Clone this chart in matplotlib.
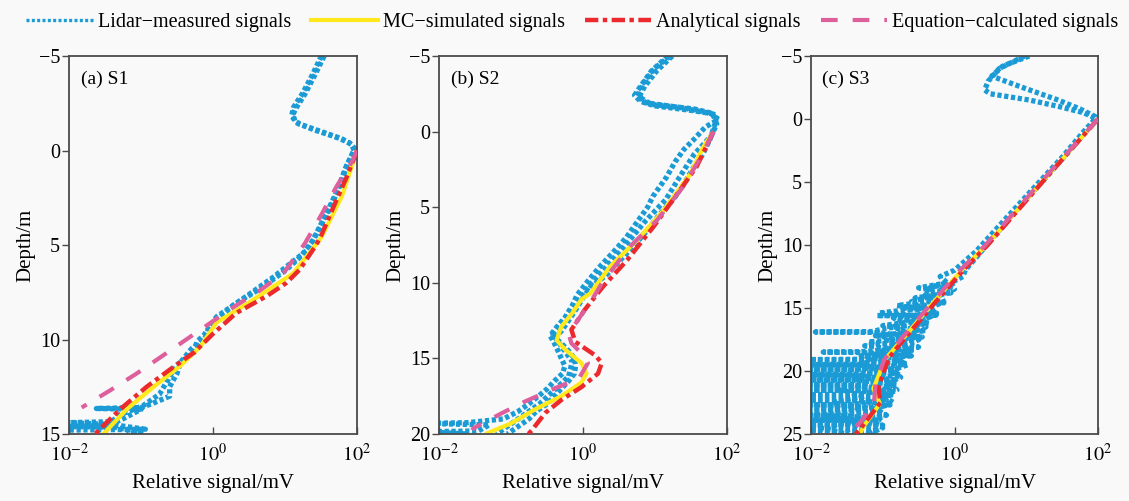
import matplotlib
matplotlib.use("Agg")
import matplotlib.pyplot as plt
from matplotlib.lines import Line2D

plt.rcParams['font.family'] = ['Liberation Serif', 'DejaVu Serif']
plt.rcParams['mathtext.fontset'] = 'stix'

# ---------------- data (depth in m, signal in mV) ----------------
# Panel (a) S1
s1_lidar_a_depth = [-5, -4, -3, -2.2, -1.9, -1.5, -1.1, -0.7, -0.4, -0.1, 0.8, 1.6, 3.0, 4.7, 5.3, 5.9, 6.7, 7.7,
                    8.8, 9.8, 10.1, 10.7, 11.4, 12.1, 12.9, 13.5, 14.0, 14.35, 14.4, 14.5, 14.75, 14.8]
s1_lidar_a_signal = [35, 26, 19, 14, 12.9, 13.8, 25, 52, 79, 93, 72, 62, 43, 25, 20, 12.6, 6.9, 2.95,
                     1.12, 0.74, 0.6, 0.54, 0.3, 0.24, 0.18, 0.107, 0.05, 0.039, 0.0095, 0.04, 0.115, 0.007]
s1_lidar_b_depth = [-5, -4, -3, -2.3, -1.8, -1.4, -1.0, -0.6, -0.3, 0.0, 1.0, 2.0, 3.3, 4.8, 5.6, 6.3, 7.2, 8.2,
                    9.3, 10.0, 10.5, 11.2, 11.8, 12.5, 13.0, 13.4, 13.6, 13.65, 13.7, 13.9, 14.2, 14.55, 14.6,
                    14.65, 14.9, 15.0]
s1_lidar_b_signal = [32, 24, 17.4, 13.2, 12.3, 15.8, 32, 63, 85, 91, 68, 55, 38, 24, 16.6, 10.5, 5.0, 1.9,
                     0.89, 0.76, 0.5, 0.355, 0.316, 0.25, 0.25, 0.141, 0.1, 0.024, 0.1, 0.079, 0.056, 0.035, 0.008,
                     0.045, 0.1, 0.063]
s1_mc_depth = [0.0, 0.7, 2.4, 4.6, 5.5, 6.5, 7.2, 8.1, 9.1, 10.4, 11.4, 12.5, 13.7, 15.0]
s1_mc_signal = [100, 87, 62, 32, 21, 13, 6.9, 3.0, 1.12, 0.66, 0.35, 0.15, 0.063, 0.030]
s1_ana_depth = [0.0, 1.4, 3.0, 4.6, 5.1, 6.3, 7.0, 7.7, 8.6, 9.7, 10.7, 11.6, 12.5, 13.7, 15.0]
s1_ana_signal = [100, 72, 47, 31, 26, 16, 10.5, 5.6, 2.1, 1.0, 0.54, 0.25, 0.12, 0.051, 0.023]
s1_eq_depth = [0.0, 0.6, 1.9, 3.4, 4.9, 6.5, 7.4, 8.3, 9.5, 10.7, 11.8, 12.7, 13.6]
s1_eq_signal = [100, 85, 52, 32, 19, 9.5, 4.5, 1.9, 0.66, 0.23, 0.087, 0.037, 0.015]

# Panel (b) S2
s2_lidar_a_depth = [-5, -4.2, -3.2, -2.3, -1.9, -1.6, -1.3, -1.1, -0.6, -0.3, 0.5, 1.5, 2.5, 3.5, 4.5, 5.5, 6.5,
                    7.5, 8.5, 9.5, 10.3, 11.0, 11.8, 12.5, 13.2, 13.6, 14.0, 14.5, 15.0, 15.5, 16.0, 16.5, 17.0,
                    17.5, 18.0, 18.5, 19.0, 19.5, 20.0]
s2_lidar_a_signal = [16.2, 10, 6.9, 5.6, 7.6, 22, 47, 72, 69, 66, 58, 46, 33, 25, 17.8, 11.5, 7.9,
                     5.2, 3.3, 2.1, 1.26, 1.0, 0.79, 0.63, 0.5, 0.4, 0.5, 0.63, 0.76, 0.79, 0.76, 0.63, 0.5,
                     0.4, 0.32, 0.224, 0.178, 0.126, 0.089]
s2_lidar_b_depth = [-5, -4.0, -3.0, -2.4, -2.0, -1.7, -1.4, -1.2, -0.8, -0.3, 0.5, 1.2, 2.0, 3.0, 4.3, 5.0, 6.0,
                    7.0, 8.0, 9.0, 10.0, 10.8, 11.5, 12.3, 13.0, 13.5, 14.0, 14.5, 15.0, 15.5, 16.0, 16.5, 17.0,
                    17.5, 18.0, 18.5, 19.0, 19.25, 19.3, 19.4, 19.8, 19.85, 20.0]
s2_lidar_b_signal = [15.1, 8.9, 6.3, 5.2, 6.3, 10, 32, 60, 76, 50, 35, 25, 19, 14.5, 9.3, 7.9, 5.6,
                     4.0, 2.6, 1.66, 1.12, 0.83, 0.71, 0.56, 0.42, 0.35, 0.4, 0.45, 0.5, 0.56, 0.52, 0.4, 0.32,
                     0.24, 0.178, 0.126, 0.079, 0.025, 0.0063, 0.05, 0.035, 0.0063, 0.025]
s2_lidar_c_depth = [-5, -4.0, -3.0, -2.3, -1.8, -1.5, -1.2, -0.5, 0.3, 1.5, 3.0, 4.5, 6.0, 8.0, 10.0, 12.0, 13.4,
                    14.2, 15.2, 16.2, 17.0, 18.0, 19.0, 20.0]
s2_lidar_c_signal = [17.4, 10.5, 7.2, 6.0, 8.9, 35, 63, 72, 60, 35, 22, 14.1, 7.1, 3.2, 1.32, 0.66, 0.38,
                     0.5, 0.71, 0.63, 0.42, 0.25, 0.126, 0.063]
s2_mc_depth = [0.0, 1.0, 2.8, 5.2, 7.2, 8.9, 10.7, 11.1, 12.0, 12.9, 13.8, 14.4, 15.3, 16.0, 16.6, 17.5, 18.4,
               19.3, 20.0]
s2_mc_signal = [65, 47, 31, 13.2, 5.6, 2.4, 1.26, 0.95, 0.71, 0.5, 0.43, 0.56, 0.95, 1.12, 0.95, 0.5, 0.21,
                0.10, 0.044]
s2_ana_depth = [0.0, 2.3, 3.9, 6.3, 8.5, 10.25, 11.8, 13.1, 13.9, 14.8, 15.3, 16.0, 16.9, 17.75, 18.6, 19.75, 20.0]
s2_ana_signal = [65, 38, 22, 9.5, 4.1, 1.9, 1.05, 0.69, 0.78, 1.48, 1.82, 1.62, 0.95, 0.5, 0.3, 0.195, 0.174]
s2_eq_depth = [0.0, 1.7, 3.6, 5.85, 7.6, 9.9, 11.14, 12.46, 13.34, 14.0, 14.66, 15.3, 16.36, 16.97, 17.86, 18.63,
               19.62, 19.75]
s2_eq_signal = [65, 43, 25, 10.7, 4.5, 1.9, 1.32, 0.85, 0.63, 0.69, 0.95, 1.17, 0.87, 0.41, 0.155, 0.074,
                0.030, 0.029]

# Panel (c) S3
s3_lidar_a_depth = [-5, -4.2, -3.4, -2.5, -1.5, -0.8, -0.2, 0.0, 2.0, 4.6, 7.5, 10.0, 11.0, 12.0, 12.5, 13.0,
                    13.5, 14.0, 14.5, 15.0, 15.5, 16.0, 16.5, 17.0, 17.5, 18.0, 18.5, 19.0, 19.5, 20.0, 20.5,
                    21.0, 21.5, 22.0, 22.5, 23.0, 23.5, 24.0, 24.5, 25.0]
s3_lidar_a_signal = [11, 4.7, 3.3, 8.9, 28, 56, 91, 93, 48, 19, 6.6, 2.8, 2.0, 1.41, 1.32, 0.89,
                     1.0, 0.63, 0.71, 0.45, 0.56, 0.32, 0.40, 0.24, 0.32, 0.2, 0.25, 0.141, 0.224, 0.126, 0.178,
                     0.112, 0.158, 0.1, 0.141, 0.079, 0.112, 0.071, 0.1, 0.063]
s3_lidar_b_depth = [-5, -4.0, -3.0, -2.3, -2.0, -1.5, -1.0, -0.5, -0.05, 1.0, 3.0, 5.5, 8.0, 10.5, 12.0, 12.5,
                    13.0, 13.5, 14.0, 14.5, 15.0, 15.4, 15.6, 16.0, 16.5, 17.0, 17.5, 18.0, 18.5, 19.0, 19.5,
                    20.0, 20.5, 21.0, 21.5, 22.0, 22.5, 23.0, 23.5, 24.0, 24.5, 25.0]
s3_lidar_b_signal = [9.5, 4.2, 2.95, 2.63, 3.16, 11.2, 28, 63, 93, 63, 32, 12.6, 5.0, 2.0, 1.0, 0.63,
                     0.79, 0.4, 0.5, 0.25, 0.355, 0.089, 0.316, 0.2, 0.141, 0.224, 0.112, 0.158, 0.089, 0.079, 0.05,
                     0.1, 0.04, 0.063, 0.025, 0.056, 0.02, 0.05, 0.016, 0.04, 0.0126, 0.032]
s3_lidar_c_depth = [13.0, 13.4, 13.8, 14.2, 14.6, 15.0, 15.4, 15.8, 16.2, 16.6, 16.87, 16.9, 16.93, 17.3, 17.7,
                    18.1, 18.47, 18.5, 18.53, 18.8, 19.07, 19.1, 19.13, 19.5, 19.87, 19.9, 19.93, 20.3, 20.67, 20.7,
                    20.73, 21.1, 21.47, 21.5, 21.53, 21.9, 22.27, 22.3, 22.33, 22.7, 23.07, 23.1, 23.13, 23.5,
                    23.87, 23.9, 23.93, 24.3, 24.67, 24.7, 24.73, 25.0]
s3_lidar_c_signal = [0.794, 0.316, 0.891, 0.282, 0.708, 0.2, 0.562, 0.141, 0.447, 0.112, 0.071, 0.0115, 0.071,
                     0.355, 0.063, 0.316, 0.05, 0.0148, 0.05, 0.251, 0.05, 0.005, 0.05, 0.2, 0.045, 0.005, 0.045,
                     0.178, 0.045, 0.005, 0.045, 0.158, 0.04, 0.005, 0.04, 0.141, 0.04, 0.005, 0.04, 0.126, 0.035,
                     0.005, 0.035, 0.112, 0.032, 0.005, 0.032, 0.1, 0.032, 0.005, 0.032, 0.089]
s3_lidar_d_depth = [13.2, 13.6, 14.0, 14.4, 14.8, 15.2, 15.58, 15.6, 15.62, 16.0, 16.4, 16.8, 17.2, 17.6, 18.0,
                    18.4, 18.8, 19.2, 19.47, 19.5, 19.53, 19.9, 20.27, 20.3, 20.33, 20.7, 21.07, 21.1, 21.13, 21.5,
                    21.87, 21.9, 21.93, 22.3, 22.67, 22.7, 22.73, 23.1, 23.47, 23.5, 23.53, 23.9, 24.27, 24.3,
                    24.33, 24.7, 25.0]
s3_lidar_d_signal = [0.501, 0.794, 0.355, 0.631, 0.158, 0.501, 0.55, 0.083, 0.501, 0.316, 0.1, 0.398, 0.079,
                     0.282, 0.056, 0.251, 0.05, 0.2, 0.05, 0.005, 0.05, 0.158, 0.045, 0.005, 0.045, 0.141, 0.04,
                     0.005, 0.04, 0.126, 0.04, 0.005, 0.04, 0.112, 0.035, 0.005, 0.035, 0.1, 0.032, 0.005, 0.032,
                     0.089, 0.032, 0.005, 0.032, 0.079, 0.05]
s3_mc_depth = [0.0, 5.0, 10.0, 12.0, 14.5, 17.3, 19.1, 21.4, 22.6, 24.4, 25.0]
s3_mc_signal = [100, 16.6, 2.8, 1.26, 0.52, 0.20, 0.107, 0.074, 0.091, 0.054, 0.048]
s3_ana_depth = [0.0, 5.0, 10.0, 12.0, 14.5, 17.3, 19.0, 21.3, 22.5, 24.5, 25.0]
s3_ana_signal = [100, 16.8, 2.9, 1.32, 0.55, 0.21, 0.12, 0.087, 0.093, 0.05, 0.042]
s3_eq_depth = [0.0, 5.0, 10.0, 12.0, 14.5, 17.3, 19.1, 21.0, 22.5, 24.0, 25.0]
s3_eq_signal = [100, 16, 2.7, 1.2, 0.5, 0.19, 0.105, 0.079, 0.076, 0.05, 0.033]

panel_titles = ["(a) S1", "(b) S2", "(c) S3"]
depth_limits = [15, 20, 25]
depth_ticks = [[-5, 0, 5, 10, 15], [-5, 0, 5, 10, 15, 20], [-5, 0, 5, 10, 15, 20, 25]]
x_ticks = [1e-2, 1e0, 1e2]
x_ticklabels = [r"$10^{-2}$", r"$10^{0}$", r"$10^{2}$"]
legend_labels = ["Lidar\u2212measured signals", "MC\u2212simulated signals", "Analytical signals",
                 "Equation\u2212calculated signals"]

panels = [
    dict(lidar=[(s1_lidar_a_depth, s1_lidar_a_signal), (s1_lidar_b_depth, s1_lidar_b_signal)],
         mc=(s1_mc_depth, s1_mc_signal), ana=(s1_ana_depth, s1_ana_signal), eq=(s1_eq_depth, s1_eq_signal)),
    dict(lidar=[(s2_lidar_a_depth, s2_lidar_a_signal), (s2_lidar_b_depth, s2_lidar_b_signal),
                (s2_lidar_c_depth, s2_lidar_c_signal)],
         mc=(s2_mc_depth, s2_mc_signal), ana=(s2_ana_depth, s2_ana_signal), eq=(s2_eq_depth, s2_eq_signal)),
    dict(lidar=[(s3_lidar_a_depth, s3_lidar_a_signal), (s3_lidar_b_depth, s3_lidar_b_signal),
                (s3_lidar_c_depth, s3_lidar_c_signal), (s3_lidar_d_depth, s3_lidar_d_signal)],
         mc=(s3_mc_depth, s3_mc_signal), ana=(s3_ana_depth, s3_ana_signal), eq=(s3_eq_depth, s3_eq_signal)),
]

# ---------------- styles ----------------
BG = "#f9f9f9"
C_LIDAR = "#1b9bd5"
C_MC = "#ffe81c"
C_ANA = "#ec2a2e"
C_EQ = "#dd5f9c"
SPINE = "#4a4a4a"

fig = plt.figure(figsize=(11.29, 5.01), dpi=100, facecolor=BG)
W, H = 1129.0, 501.0
lefts = [69, 439, 811]
widths = [288, 288, 287]
top_px, bottom_px = 56, 434

for i, p in enumerate(panels):
    ax = fig.add_axes([lefts[i] / W, 1 - bottom_px / H, widths[i] / W, (bottom_px - top_px) / H])
    ax.set_facecolor(BG)
    for d, s in p["lidar"]:
        ax.plot(s, d, color=C_LIDAR, lw=3.8, linestyle=(0, (0.8, 0.5)), zorder=1)
    ax.plot(p["mc"][1], p["mc"][0], color=C_MC, lw=3.0, zorder=2, solid_capstyle='butt')
    ax.plot(p["ana"][1], p["ana"][0], color=C_ANA, lw=3.2, dashes=(3.0, 1.0, 1.0, 1.0), zorder=3)
    ax.plot(p["eq"][1], p["eq"][0], color=C_EQ, lw=3.0, dashes=(4.0, 3.6), zorder=4)
    ax.set_xscale("log")
    ax.set_xlim(1e-2, 1e2)
    ax.set_ylim(depth_limits[i], -5)
    ax.set_xticks(x_ticks)
    ax.set_xticklabels(x_ticklabels)
    ax.minorticks_off()
    ax.set_yticks(depth_ticks[i])
    ax.tick_params(axis="x", direction="in", length=5, width=1.0, color=SPINE, labelsize=14.5, pad=7)
    ax.tick_params(axis="y", direction="out", length=5, width=1.0, color=SPINE, labelsize=14.5, pad=1.5)
    for sp in ax.spines.values():
        sp.set_color(SPINE)
        sp.set_linewidth(1.3)
    ax.set_xlabel("Relative signal/mV", fontsize=15, labelpad=6)
    ax.set_ylabel("Depth/m", fontsize=15, labelpad=2)
    ax.text(0.04, 0.937, panel_titles[i], transform=ax.transAxes, fontsize=14, va="center", ha="left")

handles = [
    Line2D([], [], color=C_LIDAR, lw=2.4, linestyle=(0, (0.9, 0.7))),
    Line2D([], [], color=C_MC, lw=3.0),
    Line2D([], [], color=C_ANA, lw=3.2, dashes=(3.0, 1.0, 1.0, 1.0)),
    Line2D([], [], color=C_EQ, lw=3.0, dashes=(4.0, 3.6)),
]
fig.legend(handles, legend_labels, loc="center", bbox_to_anchor=(0.507, 1 - 22 / H), ncol=4, frameon=False,
           fontsize=14.5, handlelength=3.3, handletextpad=0.25, columnspacing=1.0)

fig.savefig("out.png", dpi=100, facecolor=BG)
